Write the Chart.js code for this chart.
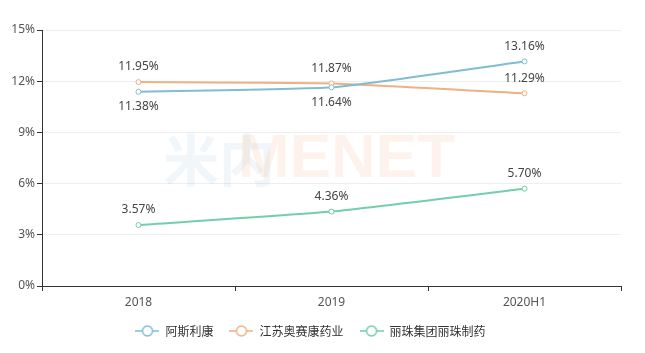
<!DOCTYPE html>
<html>
<head>
<meta charset="utf-8">
<script src="https://cdn.jsdelivr.net/npm/chart.js@4/dist/chart.umd.min.js"></script>
<style>
  body { margin: 0; background: #fff; }
  #wrap { width: 645px; height: 353px; }
</style>
</head>
<body>
<div id="wrap"><canvas id="canvas"></canvas></div>
<script>
const categories = ["2018", "2019", "2020H1"];
const seriesNames = ["阿斯利康", "江苏奥赛康药业", "丽珠集团丽珠制药"];
const astra = [11.38, 11.64, 13.16];
const aosaikang = [11.95, 11.87, 11.29];
const livzon = [3.57, 4.36, 5.70];
const yTicks = [0, 3, 6, 9, 12, 15];
const colors = ["#82bcd3", "#efb183", "#72cfa9"];
// label above (-1) or below (+1) for each point
const labelSide = [[1, 1, -1], [-1, -1, -1], [-1, -1, -1]];

function legendIcon(color) {
    const c = document.createElement("canvas");
    c.width = 24; c.height = 12;
    const g = c.getContext("2d");
    g.strokeStyle = color; g.lineWidth = 1.5;
    g.beginPath(); g.moveTo(0, 6); g.lineTo(24, 6); g.stroke();
    g.fillStyle = "#fff";
    g.beginPath(); g.arc(12, 6, 5, 0, Math.PI * 2); g.fill(); g.stroke();
    return c;
}

const valueLabels = {
    id: "valueLabels",
    afterDatasetsDraw(chart) {
        const ctx = chart.ctx;
        ctx.save();
        ctx.font = "12px 'Noto Sans', 'Noto Sans CJK SC', sans-serif";
        ctx.fillStyle = "#444";
        ctx.textAlign = "center";
        ctx.textBaseline = "middle";
        chart.data.datasets.forEach((ds, i) => {
            chart.getDatasetMeta(i).data.forEach((pt, j) => {
                const side = labelSide[i][j];
                ctx.fillText(ds.data[j].toFixed(2) + "%", pt.x, pt.y + side * 15);
            });
        });
        ctx.restore();
    }
};

const watermark = {
    id: "watermark",
    beforeDatasetsDraw(chart) {
        const ctx = chart.ctx;
        ctx.save();
        ctx.textBaseline = "middle";
        ctx.textAlign = "left";
        ctx.font = "bold 56px 'Noto Sans CJK SC', sans-serif";
        ctx.fillStyle = "rgba(140, 185, 205, 0.13)";
        ctx.fillText("米内", 163, 160);
        ctx.font = "bold 62px 'Liberation Sans', sans-serif";
        ctx.fillStyle = "rgba(245, 160, 110, 0.13)";
        ctx.fillText("MENET", 238, 160);
        ctx.restore();
    }
};

const whiteBg = {
    id: "whiteBg",
    beforeDraw(chart) {
        const ctx = chart.ctx;
        ctx.save();
        ctx.fillStyle = "#fff";
        ctx.fillRect(0, 0, chart.width, chart.height);
        ctx.restore();
    }
};

const allSeries = [astra, aosaikang, livzon];

new Chart(document.getElementById("canvas"), {
    type: "line",
    data: {
        labels: categories,
        datasets: allSeries.map((d, i) => ({
            label: seriesNames[i],
            data: d,
            borderColor: colors[i],
            backgroundColor: "#fff",
            borderWidth: 2,
            pointRadius: 2.5,
            pointBorderWidth: 1,
            pointBackgroundColor: "#fff",
            pointBorderColor: colors[i],
            tension: 0.15,
            pointStyle: "circle"
        }))
    },
    options: {
        responsive: true,
        maintainAspectRatio: false,
        animation: false,
        layout: { padding: { top: 30, right: 24, left: 0, bottom: 6 } },
        scales: {
            x: {
                offset: true,
                grid: { offset: true, drawOnChartArea: false, tickLength: 5, tickColor: "#333" },
                border: { color: "#333", width: 1 },
                ticks: { color: "#555", font: { size: 12, family: "'Noto Sans', sans-serif" }, padding: 4 },
                afterFit(s) { s.height = 23; }
            },
            y: {
                min: 0,
                max: 15,
                afterBuildTicks(s) { s.ticks = yTicks.map(v => ({ value: v })); },
                grid: { color: "#eeeeee", tickLength: 5, tickColor: "#333" },
                border: { color: "#333", width: 1 },
                ticks: {
                    color: "#555",
                    font: { size: 12, family: "'Noto Sans', sans-serif" },
                    padding: 2,
                    callback: v => v + "%"
                },
                afterFit(s) { s.width = 42; }
            }
        },
        plugins: {
            legend: {
                position: "bottom",
                labels: {
                    usePointStyle: true,
                    pointStyleWidth: 24,
                    color: "#333",
                    font: { size: 12, family: "'Noto Sans CJK SC', sans-serif" },
                    padding: 16,
                    generateLabels(chart) {
                        return chart.data.datasets.map((ds, i) => ({
                            text: ds.label,
                            pointStyle: legendIcon(colors[i]),
                            fillStyle: "#fff",
                            strokeStyle: colors[i],
                            lineWidth: 0,
                            fontColor: "#333",
                            datasetIndex: i
                        }));
                    }
                }
            },
            tooltip: { enabled: false }
        }
    },
    plugins: [whiteBg, watermark, valueLabels]
});
</script>
</body>
</html>
